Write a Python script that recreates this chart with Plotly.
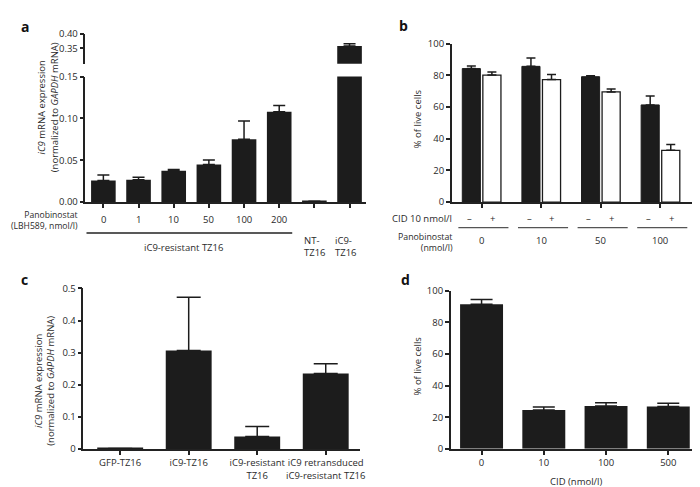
import plotly.graph_objects as go

# ---------------- data ----------------
# Panel a
a_categories = ["0", "1", "10", "50", "100", "200", "NT-TZ16", "iC9-TZ16"]
a_values = [0.0259, 0.0267, 0.0376, 0.0449, 0.0751, 0.108, 0.001, 0.358]
a_errors = [0.0067, 0.0031, 0.0014, 0.0054, 0.0218, 0.0075, 0.0, 0.008]
a_dose_labels = ["0", "1", "10", "50", "100", "200"]

# Panel b
b_groups = ["0", "10", "50", "100"]
b_no_cid = [84.2, 85.6, 79.1, 61.3]
b_no_cid_err = [1.7, 5.2, 0.6, 5.6]
b_cid = [80.1, 77.3, 69.5, 32.7]
b_cid_err = [1.9, 3.2, 1.9, 3.7]

# Panel c
c_categories = ["GFP-TZ16", "iC9-TZ16", "iC9-resistant<br>TZ16",
                "iC9 retransduced<br>iC9-resistant TZ16"]
c_values = [0.002, 0.307, 0.0394, 0.2355]
c_errors = [0.0, 0.166, 0.031, 0.0305]

# Panel d
d_categories = ["0", "10", "100", "500"]
d_values = [91.4, 24.6, 27.1, 26.7]
d_errors = [3.0, 1.9, 2.1, 2.1]

# ---------------- helpers ----------------
W, H = 700, 487
def fx(px):
    return px / W
def fy(py):
    return 1 - py / H

FONT = "Open Sans"
TXT = "#2a2a2a"
BAR = "#1c1c1c"
LINE = "#222222"
FS = 9.5

fig = go.Figure()

def err(arr, width):
    return dict(type="data", array=arr, arrayminus=[0] * len(arr), symmetric=False,
                color=BAR, thickness=1.5, width=width)

# Panel a: lower and upper (broken axis)
xa = list(range(len(a_categories)))
fig.add_trace(go.Bar(x=xa, y=a_values, error_y=err(a_errors, 6), marker_color=BAR,
                     marker_line_width=0, width=0.7, xaxis="x", yaxis="y", showlegend=False))
fig.add_trace(go.Bar(x=xa, y=a_values, error_y=err(a_errors, 6), marker_color=BAR,
                     marker_line_width=0, width=0.7, xaxis="x", yaxis="y2", showlegend=False))

# Panel b
xb = list(range(len(b_groups)))
fig.add_trace(go.Bar(x=xb, y=b_no_cid, error_y=err(b_no_cid_err, 4.5), marker_color=BAR,
                     marker_line=dict(color=BAR, width=1), xaxis="x2", yaxis="y3",
                     showlegend=False, offsetgroup="1"))
fig.add_trace(go.Bar(x=xb, y=b_cid, error_y=err(b_cid_err, 4.5), marker_color="white",
                     marker_line=dict(color=BAR, width=1.3), xaxis="x2", yaxis="y3",
                     showlegend=False, offsetgroup="2"))

# Panel c
xc = list(range(len(c_categories)))
fig.add_trace(go.Bar(x=xc, y=c_values, error_y=err(c_errors, 12), marker_color=BAR,
                     marker_line_width=0, width=0.67, xaxis="x3", yaxis="y4", showlegend=False))

# Panel d
xd = list(range(len(d_categories)))
fig.add_trace(go.Bar(x=xd, y=d_values, error_y=err(d_errors, 11), marker_color=BAR,
                     marker_line_width=0, width=0.69, xaxis="x4", yaxis="y5", showlegend=False))

axis_common = dict(showline=True, linecolor=LINE, linewidth=1.5, ticks="outside",
                   ticklen=4, tickwidth=1.5, tickcolor=LINE, showgrid=False, zeroline=False,
                   tickfont=dict(family=FONT, size=FS, color=TXT), fixedrange=True,
                   tickangle=0)

layout = dict(
    width=W, height=H, margin=dict(l=0, r=0, t=0, b=0),
    paper_bgcolor="white", plot_bgcolor="white",
    barmode="group", bargap=0.31, bargroupgap=0.12,
    font=dict(family=FONT, size=FS, color=TXT),
    xaxis=dict(domain=[fx(78), fx(361)], anchor="y", range=[-0.51, 7.48],
               tickvals=xa, ticktext=[""] * len(xa), **axis_common),
    yaxis=dict(domain=[fy(192.3), fy(63.3)], anchor="x", range=[0, 0.15],
               tickvals=[0, 0.05, 0.10, 0.15], tickformat=".2f", **axis_common),
    yaxis2=dict(domain=[fy(50), fy(19.3)], anchor="x", range=[0.298, 0.40],
                tickvals=[0.35, 0.40], tickformat=".2f", **axis_common),
    xaxis2=dict(domain=[fx(447), fx(695)], anchor="y3", range=[-0.5, 3.63],
                tickvals=xb, ticktext=[""] * len(xb), **axis_common),
    yaxis3=dict(domain=[fy(192.3), fy(29.3)], anchor="x2", range=[0, 100],
                dtick=20, **axis_common),
    xaxis3=dict(domain=[fx(76), fx(355)], anchor="y4", range=[-0.536, 3.507],
                tickvals=xc, ticktext=c_categories, **axis_common),
    yaxis4=dict(domain=[fy(446), fy(281)], anchor="x3", range=[0, 0.5],
                tickvals=[0, 0.1, 0.2, 0.3, 0.4, 0.5],
                ticktext=["0", "0.1", "0.2", "0.3", "0.4", "0.5"], **axis_common),
    xaxis4=dict(domain=[fx(446), fx(697)], anchor="y5", range=[-0.494, 3.51],
                tickvals=xd, ticktext=d_categories, **axis_common),
    yaxis5=dict(domain=[fy(445.7), fy(283.3)], anchor="x4", range=[0, 100],
                dtick=20, **axis_common),
)
fig.update_layout(**layout)

ann = []
def text(x, y, s, xanchor="center", size=FS, xref="paper", angle=0, align="center", bold=False):
    if xref == "paper":
        x = fx(x)
    ann.append(dict(x=x, y=fy(y), xref=xref, yref="paper", text=("<b>%s</b>" % s) if bold else s,
                    showarrow=False, xanchor=xanchor, yanchor="middle", textangle=angle,
                    align=align, font=dict(family=FONT, size=size, color=TXT if not bold else "#111")))

# panel letters
text(17, 12, "a", size=14, bold=True)
text(398, 11, "b", size=14, bold=True)
text(17, 272, "c", size=14, bold=True)
text(400, 272, "d", size=14, bold=True)

# Y titles
text(40, 95, "<i>iC9</i> mRNA expression<br>(normalized to <i>GAPDH</i> mRNA)", angle=-90)
text(412, 107, "% of live cells", angle=-90)
text(37, 376, "<i>iC9</i> mRNA expression<br>(normalized to <i>GAPDH</i> mRNA)", angle=-90)
text(412, 361, "% of live cells", angle=-90)

# Panel a x labels
text(73, 211.5, "Panobinostat<br>(LBH589, nmol/l)", xanchor="right", align="right", size=8.6)
for i, lab in enumerate(a_dose_labels):
    text(i, 210, lab, xref="x")
text(176.5, 239, "iC9-resistant TZ16")
text(296, 238, "NT-<br>TZ16", xanchor="left", align="left")
text(327, 238, "iC9-<br>TZ16", xanchor="left", align="left")

# Panel b x labels
text(449, 209, "CID 10 nmol/l", xanchor="right")
for i in xb:
    text(i - 0.2, 209, "\u2013", xref="x2")
    text(i + 0.18, 209, "+", xref="x2")
    text(i, 232, b_groups[i], xref="x2")
text(450, 234, "Panobinostat<br>(nmol/l)", xanchor="right", align="right", size=8.8)

# Panel d x title
text(572, 479, "CID (nmol/l)")

fig.update_layout(annotations=ann)

shapes = [dict(type="line", xref="x", yref="paper", x0=-0.48, x1=5.37, y0=fy(224), y1=fy(224),
               line=dict(color=LINE, width=1.3))]
for i in xb:
    shapes.append(dict(type="line", xref="x2", yref="paper", x0=i - 0.39, x1=i + 0.45,
                       y0=fy(218.5), y1=fy(218.5), line=dict(color="#555555", width=1.3)))
fig.update_layout(shapes=shapes)

fig.write_html("out.html")
